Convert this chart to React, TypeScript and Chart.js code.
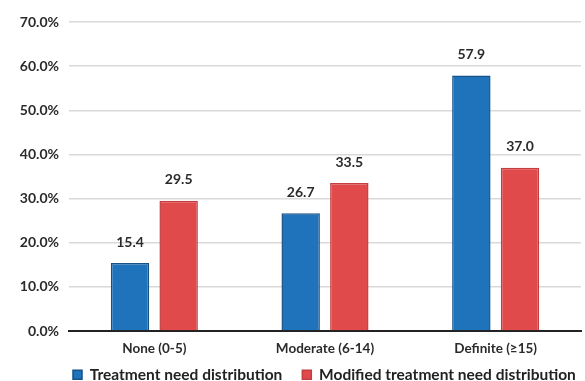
import React, { useEffect, useRef } from "react";
import { Chart, registerables } from "chart.js";

Chart.register(...registerables);

const categories = ["None (0-5)", "Moderate (6-14)", "Definite (\u226515)"];
const treatmentNeed = [15.4, 26.7, 57.9];
const modifiedTreatmentNeed = [29.5, 33.5, 37.0];
const seriesNames = ["Treatment need distribution", "Modified treatment need distribution"];
const yMin = 0;
const yMax = 70;
const yStep = 10;

const FONT = "Lato, 'Open Sans', sans-serif";

const valueLabels = {
  id: "valueLabels",
  afterDatasetsDraw(chart: any) {
    const ctx = chart.ctx;
    ctx.save();
    ctx.font = `bold 14px ${FONT}`;
    ctx.fillStyle = "#2b2b2b";
    ctx.textAlign = "center";
    ctx.textBaseline = "middle";
    chart.data.datasets.forEach((ds: any, di: number) => {
      const meta = chart.getDatasetMeta(di);
      meta.data.forEach((el: any, i: number) => {
        ctx.fillText(Number(ds.data[i]).toFixed(1), el.x, el.y - 21);
      });
    });
    ctx.restore();
  },
};

const legendPlacer = {
  id: "legendPlacer",
  beforeDraw(chart: any) {
    const lg = chart.legend;
    if (!lg) return;
    const pad = lg.options.labels.padding;
    lg.left = 73 - pad;
    lg.right = 800;
    lg.top = 375 - pad - 8;
  },
};

export default function App() {
  const ref = useRef<HTMLCanvasElement>(null);
  useEffect(() => {
    if (!ref.current) return;
    const chart = new Chart(ref.current, {
      type: "bar",
      data: {
        labels: categories,
        datasets: [
          {
            label: seriesNames[0],
            data: treatmentNeed,
            backgroundColor: "#1f73bb",
            borderColor: "#175287",
            borderWidth: 1.5,
            categoryPercentage: 0.57,
            barPercentage: 0.79,
          },
          {
            label: seriesNames[1],
            data: modifiedTreatmentNeed,
            backgroundColor: "#e04a4b",
            borderColor: "#c43e40",
            borderWidth: 1.5,
            categoryPercentage: 0.57,
            barPercentage: 0.79,
          },
        ],
      },
      options: {
        animation: false,
        responsive: false,
        maintainAspectRatio: false,
        layout: { padding: { top: 22, right: 4, left: 0, bottom: 0 } },
        plugins: {
          tooltip: { enabled: false },
          legend: {
            position: "bottom",
            align: "start",
            maxHeight: 20,
            labels: {
              boxWidth: 9,
              boxHeight: 9,
              padding: 20,
              color: "#222",
              font: { family: FONT, size: 15.5, weight: "bold" },
            },
          },
        },
        scales: {
          x: {
            afterFit(scale: any) {
              scale.height = 30;
            },
            grid: { display: false },
            border: { display: true, color: "#222", width: 2 },
            ticks: {
              color: "#2b2b2b",
              font: { family: FONT, size: 13.5, weight: "bold" },
              padding: 2,
            },
          },
          y: {
            min: yMin,
            max: yMax,
            afterFit(scale: any) {
              scale.width = 69;
            },
            grid: { color: "#d9d9d9", lineWidth: 1.5, drawTicks: false },
            border: { display: false },
            ticks: {
              stepSize: yStep,
              padding: 10,
              color: "#2b2b2b",
              font: { family: FONT, size: 14, weight: "bold" },
              callback: (v: any) => Number(v).toFixed(1) + "%",
            },
          },
        },
      },
      plugins: [legendPlacer, valueLabels],
    });
    return () => chart.destroy();
  }, []);
  return (
    <div style={{ position: "fixed", left: 0, top: 0, width: 585, height: 381, background: "#fff" }}>
      <canvas ref={ref} width={585} height={381} style={{ width: 585, height: 381 }} />
    </div>
  );
}
